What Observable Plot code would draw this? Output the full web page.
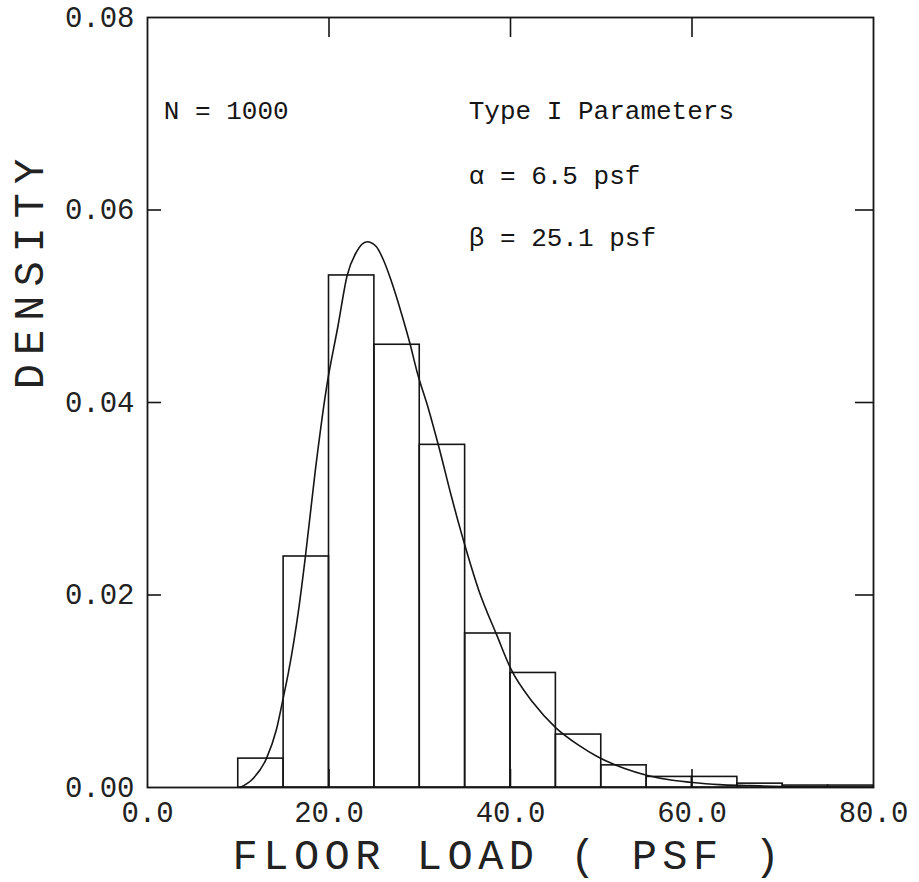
<!DOCTYPE html>
<html><head><meta charset="utf-8">
<script src="https://cdn.jsdelivr.net/npm/d3@7"></script>
<script src="https://cdn.jsdelivr.net/npm/@observablehq/plot@0.6"></script>
<style>body{margin:0;background:#fff}</style>
</head><body><div id="chart"></div>
<script>
// Histogram of floor load (bin edges in psf) and density
const binLo = [10, 15, 20, 25, 30, 35, 40, 45, 50, 55, 60, 65, 70, 75];
const binHi = [15, 20, 25, 30, 35, 40, 45, 50, 55, 60, 65, 70, 75, 80];
const density = [0.003, 0.024, 0.0532, 0.046, 0.0356, 0.016, 0.0119, 0.0055, 0.0023, 0.0011, 0.0011, 0.0004, 0.0002, 0.0002];

// Fitted Type I curve
const curveX = [10.2, 11.5, 13.1, 14.2, 15.0, 15.5, 16.7, 17.4, 18.5, 19.7, 21.0, 22.0, 23.0, 24.2, 25.2, 26.0, 26.8, 28.0, 28.9, 29.7, 31.0, 32.1, 33.5, 34.9, 36.5, 38.5, 40.0, 42.5, 45.0, 47.5, 49.6, 52.5, 55.1, 57.5, 59.8, 63, 66.4, 70, 75, 80];
const curveY = [0.0, 0.0008, 0.003, 0.006, 0.0095, 0.0118, 0.0188, 0.024, 0.033, 0.0414, 0.048, 0.0532, 0.0556, 0.0567, 0.0562, 0.0548, 0.0528, 0.0492, 0.0462, 0.0432, 0.0392, 0.0354, 0.0302, 0.0254, 0.0205, 0.0158, 0.0124, 0.0088, 0.0062, 0.0044, 0.0032, 0.002, 0.00125, 0.0008, 0.00055, 0.0003, 0.0002, 0.0001, 0.00005, 0.00002];

const xTicks = [0, 20, 40, 60, 80];
const xTickLabels = ["0.0", "20.0", "40.0", "60.0", "80.0"];
const yTicks = [0, 0.02, 0.04, 0.06, 0.08];
const yTickLabels = ["0.00", "0.02", "0.04", "0.06", "0.08"];
const innerXTicks = [20, 40, 60];
const innerYTicks = [0.02, 0.04, 0.06];

const xTitle = "FLOOR LOAD ( PSF )";
const yTitle = "DENSITY";
const noteN = "N = 1000";
const noteParams = ["Type I Parameters", "α = 6.5 psf", "β = 25.1 psf"];

const bins = binLo.map((lo, i) => ({lo, hi: binHi[i], d: density[i]}));
const curve = curveX.map((x, i) => ({x, y: curveY[i]}));

const ink = "#151515";
const mono = "Liberation Mono, DejaVu Sans Mono, monospace";

const chart = Plot.plot({
  width: 919,
  height: 882,
  marginLeft: 147,
  marginRight: 46,
  marginTop: 17,
  marginBottom: 95,
  x: {domain: [0, 80], axis: null},
  y: {domain: [0, 0.08], axis: null},
  style: {fontFamily: mono, background: "#fff", color: ink},
  marks: [
    Plot.rectY(bins, {x1: "lo", x2: "hi", y: "d", fill: "none", stroke: ink, strokeWidth: 1.6}),
    Plot.line(curve, {x: "x", y: "y", curve: "monotone-x", stroke: ink, strokeWidth: 1.6}),
    Plot.frame({stroke: ink, strokeWidth: 1.8}),
    Plot.tickX(innerXTicks, {x: d => d, insetBottom: 750, stroke: ink, strokeWidth: 1.6}),
    Plot.tickX(innerXTicks, {x: d => d, insetTop: 752, stroke: ink, strokeWidth: 1.6}),
    Plot.tickY(innerYTicks, {y: d => d, insetRight: 712, stroke: ink, strokeWidth: 1.6}),
    Plot.tickY(innerYTicks, {y: d => d, insetLeft: 708, stroke: ink, strokeWidth: 1.6}),
    Plot.axisX({ticks: xTicks, tickSize: 0, tickPadding: 14, label: null,
      tickFormat: d => xTickLabels[xTicks.indexOf(d)], fontSize: 29, fill: "#222"}),
    Plot.axisY({ticks: yTicks, tickSize: 0, tickPadding: 13, label: null,
      tickFormat: d => yTickLabels[yTicks.indexOf(d)], fontSize: 29, fill: "#222"}),
    Plot.text([yTitle], {frameAnchor: "top-left", dx: -118, dy: 252, rotate: -90, text: d => d,
      textAnchor: "middle", lineAnchor: "middle", fontSize: 42, fill: "#222"}),
    Plot.text([xTitle], {frameAnchor: "bottom-left", dx: 85, dy: 68, text: d => d,
      textAnchor: "start", lineAnchor: "middle", fontSize: 42, fill: "#222"}),
    Plot.text([noteN], {x: () => 1.8, y: () => 0.0703, text: d => d, textAnchor: "start",
      lineAnchor: "middle", fontSize: 26, fill: ink}),
    Plot.text([noteParams[0]], {x: () => 35.4, y: () => 0.0703, text: d => d, textAnchor: "start",
      lineAnchor: "middle", fontSize: 26, fill: ink}),
    Plot.text([noteParams[1]], {x: () => 35.4, y: () => 0.0636, text: d => d, textAnchor: "start",
      lineAnchor: "middle", fontSize: 26, fill: ink}),
    Plot.text([noteParams[2]], {x: () => 35.4, y: () => 0.0571, text: d => d, textAnchor: "start",
      lineAnchor: "middle", fontSize: 26, fill: ink})
  ]
});

chart.querySelectorAll("text").forEach(t => {
  if (t.textContent === yTitle) t.style.letterSpacing = "9px";
  if (t.textContent === xTitle) t.style.letterSpacing = "5.5px";
});
document.getElementById("chart").appendChild(chart);
</script>
</body></html>
